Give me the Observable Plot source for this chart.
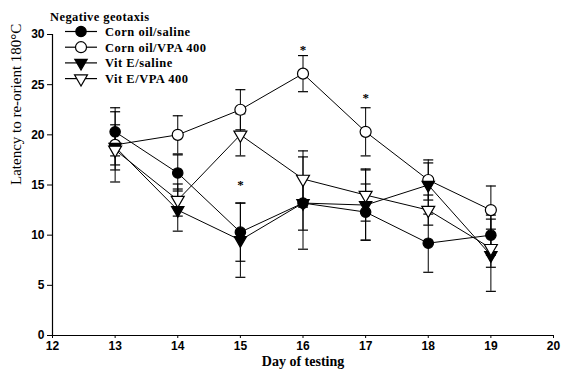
<!DOCTYPE html>
<html>
<head>
<meta charset="utf-8">
<script src="https://cdn.jsdelivr.net/npm/d3@7"></script>
<script src="https://cdn.jsdelivr.net/npm/@observablehq/plot@0.6"></script>
<style>
  html, body { margin: 0; padding: 0; background: #fff; }
  #chart svg { display: block; background: #fff; }
</style>
</head>
<body>
<div id="chart"></div>
<script>
const days = [13, 14, 15, 16, 17, 18, 19];
const seriesNames = ["Corn oil/saline", "Corn oil/VPA 400", "Vit E/saline", "Vit E/VPA 400"];
const cornSaline    = [20.3, 16.2, 10.3, 13.2, 12.3, 9.2, 10.0];
const cornSalineSem = [2.4, 1.8, 2.9, 2.7, 2.8, 2.9, 2.0];
const cornVPA       = [19.0, 20.0, 22.5, 26.1, 20.3, 15.5, 12.5];
const cornVPASem    = [2.0, 1.9, 2.0, 1.8, 2.4, 2.0, 2.4];
const vitSaline     = [18.8, 12.5, 9.5, 13.2, 13.0, 15.0, 8.0];
const vitSalineSem  = [3.5, 2.1, 3.7, 4.6, 3.5, 2.2, 3.6];
const vitVPA        = [18.5, 13.5, 20.0, 15.6, 14.0, 12.5, 8.7];
const vitVPASem     = [2.0, 1.6, 2.1, 2.8, 2.6, 1.5, 1.9];
const starDays = [15, 16, 17];
const starValues = [15.3, 28.8, 24.0];
const xTicks = [12, 13, 14, 15, 16, 17, 18, 19, 20];
const yTicks = [0, 5, 10, 15, 20, 25, 30];

const styles = {
  "Corn oil/saline":  {symbol: "circle", fill: "black", rotate: 0, r: 5.2},
  "Corn oil/VPA 400": {symbol: "circle", fill: "white", rotate: 0, r: 5.5},
  "Vit E/saline":     {symbol: "triangle", fill: "black", rotate: 180, r: 4.6},
  "Vit E/VPA 400":    {symbol: "triangle", fill: "white", rotate: 180, r: 4.8}
};
const valueArrays = [cornSaline, cornVPA, vitSaline, vitVPA];
const semArrays = [cornSalineSem, cornVPASem, vitSalineSem, vitVPASem];

const rows = [];
seriesNames.forEach((s, i) => days.forEach((d, j) => rows.push({
  series: s, day: d, value: valueArrays[i][j],
  lo: valueArrays[i][j] - semArrays[i][j], hi: valueArrays[i][j] + semArrays[i][j]
})));
const stars = starDays.map((d, i) => ({day: d, value: starValues[i]}));

const capSymbol = {
  draw(ctx, size) {
    const w = Math.sqrt(size / Math.PI);
    ctx.moveTo(-w, 0); ctx.lineTo(w, 0);
  }
};

const serif = "'Liberation Serif', 'DejaVu Serif', serif";
const sans = "'Liberation Sans', Arial, sans-serif";

const marks = [
  Plot.ruleX([12], {y1: 0, y2: 30, stroke: "black", strokeWidth: 1.2}),
  Plot.ruleY([0], {x1: 12, x2: 20, stroke: "black", strokeWidth: 1.2}),
  Plot.axisY({ticks: yTicks, tickSize: 5, tickPadding: 3, label: null, fontFamily: sans, fontSize: 12, fontWeight: "bold"}),
  Plot.axisX({ticks: xTicks, tickSize: 3, tickPadding: 3, label: null, fontFamily: sans, fontSize: 12, fontWeight: "bold"}),
  Plot.text(["Latency to re-orient 180°C"], {frameAnchor: "left", rotate: -90, dx: -36, fontFamily: serif, fontSize: 15, fill: "black"}),
  Plot.text(["Day of testing"], {frameAnchor: "bottom", lineAnchor: "bottom", dy: 30, fontFamily: serif, fontSize: 14, fontWeight: "bold", fill: "black", letterSpacing: "0.6px"}),
];
seriesNames.forEach(s => {
  const data = rows.filter(r => r.series === s);
  marks.push(Plot.line(data, {x: "day", y: "value", stroke: "black", strokeWidth: 1}));
});
marks.push(
  Plot.ruleX(rows, {x: "day", y1: "lo", y2: "hi", stroke: "black", strokeWidth: 1}),
  Plot.dot(rows, {x: "day", y: "hi", symbol: capSymbol, r: 5, stroke: "black", strokeWidth: 1.2}),
  Plot.dot(rows, {x: "day", y: "lo", symbol: capSymbol, r: 5, stroke: "black", strokeWidth: 1.2})
);
seriesNames.forEach(s => {
  const st = styles[s];
  const data = rows.filter(r => r.series === s);
  marks.push(Plot.dot(data, {x: "day", y: "value", symbol: st.symbol, r: st.r, rotate: st.rotate, fill: st.fill, stroke: "black", strokeWidth: 1.2}));
});
marks.push(Plot.text(stars, {x: "day", y: "value", text: () => "*", fontFamily: serif, fontSize: 13, fontWeight: "bold", fill: "black", dy: 3}));

const chart = Plot.plot({
  width: 563,
  height: 369,
  marginLeft: 52,
  marginRight: 10,
  marginTop: 34,
  marginBottom: 34,
  x: {domain: [12, 20]},
  y: {domain: [0, 30]},
  style: {background: "white", color: "black", overflow: "visible"},
  marks
});
document.getElementById("chart").appendChild(chart);

// Legend (inside the SVG, top-left)
const svg = d3.select(chart);
const lg = svg.append("g").attr("font-family", serif).attr("fill", "black").attr("text-anchor", "start");
lg.append("text").attr("x", 50).attr("y", 21).attr("font-size", 12.5).attr("font-weight", "bold")
  .attr("letter-spacing", "0.4px").text("Negative geotaxis");
const symMap = {circle: d3.symbolCircle, triangle: d3.symbolTriangle};
seriesNames.forEach((s, i) => {
  const st = styles[s];
  const cy = 31.5 + i * 15.7;
  const g = lg.append("g");
  g.append("line").attr("x1", 65).attr("x2", 97).attr("y1", cy).attr("y2", cy).attr("stroke", "black").attr("stroke-width", 1.2);
  g.append("path")
    .attr("d", d3.symbol(symMap[st.symbol], st.r * st.r * Math.PI)())
    .attr("transform", `translate(81,${cy}) rotate(${st.rotate})`)
    .attr("fill", st.fill).attr("stroke", "black").attr("stroke-width", 1.2);
  g.append("text").attr("x", 105).attr("y", cy + 4.5).attr("font-size", 12.5).attr("font-weight", "bold")
    .attr("letter-spacing", "0.5px").text(s);
});
</script>
</body>
</html>
